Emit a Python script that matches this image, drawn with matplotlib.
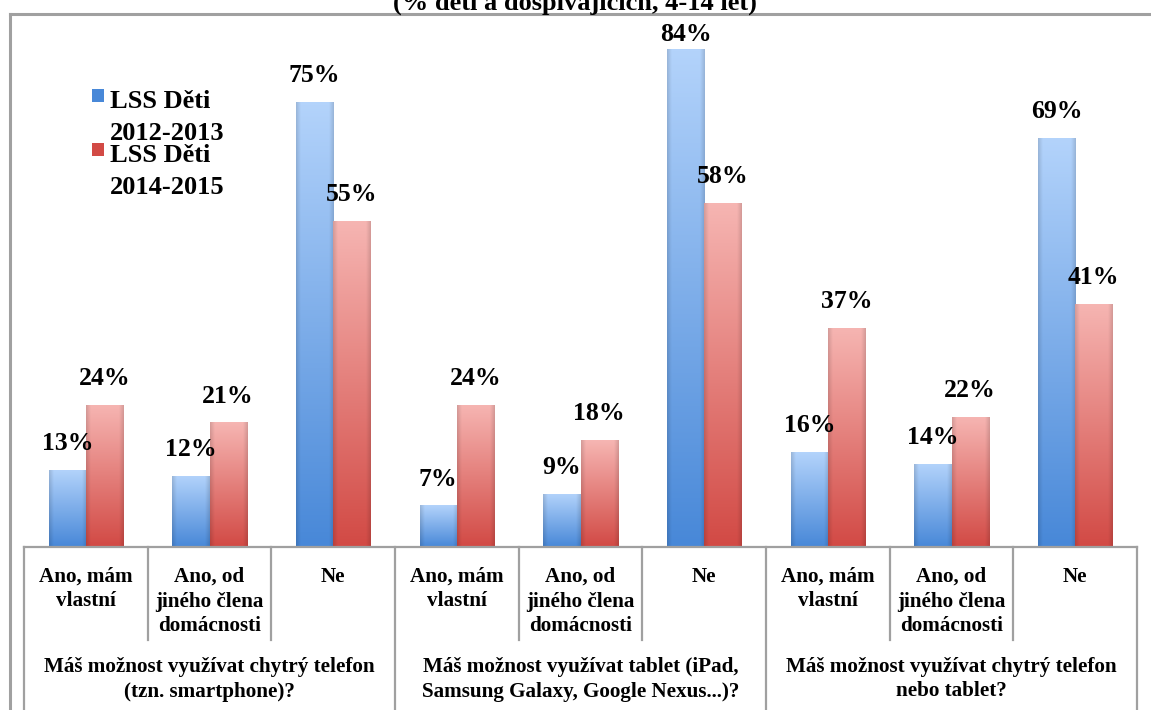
import matplotlib
matplotlib.use('Agg')
import matplotlib.pyplot as plt
import numpy as np
from matplotlib.lines import Line2D
from matplotlib.patches import Rectangle

plt.rcParams['font.family'] = ['Liberation Serif', 'DejaVu Serif']
plt.rcParams['font.weight'] = 'bold'

title = '(% dětí a dospívajících, 4-14 let)'
answers = ['Ano, mám\nvlastní', 'Ano, od\njiného člena\ndomácnosti', 'Ne'] * 3
questions = ['Máš možnost využívat chytrý telefon\n(tzn. smartphone)?',
             'Máš možnost využívat tablet (iPad,\nSamsung Galaxy, Google Nexus...)?',
             'Máš možnost využívat chytrý telefon\nnebo tablet?']
series = ['LSS Děti\n2012-2013', 'LSS Děti\n2014-2015']
vals_1213 = [13, 12, 75, 7, 9, 84, 16, 14, 69]
vals_1415 = [24, 21, 55, 24, 18, 58, 37, 22, 41]

# gradient colours (top, bottom)
grads = [('#b3d3fb', '#4888d8'), ('#f6b5b2', '#d24a45')]
edges = ['#3f76bb', '#b03e3a']

W, H = 1151, 710
fig = plt.figure(figsize=(W / 100, H / 100), dpi=100)
ax_l, ax_r, ax_b, ax_t = 24, 1137, 547, 14
ax = fig.add_axes([ax_l / W, (H - ax_b) / H, (ax_r - ax_l) / W, (ax_b - ax_t) / H])


def shade(ax, bar, top, bottom):
    x0, y0 = bar.get_x(), bar.get_y()
    w, h = bar.get_width(), bar.get_height()
    c1 = np.array(matplotlib.colors.to_rgb(top))
    c2 = np.array(matplotlib.colors.to_rgb(bottom))
    t = np.linspace(0, 1, 80)[:, None]
    rgb = c1 * (1 - t) + c2 * t
    u = np.linspace(0, 1, 40)
    e = np.minimum(u, 1 - u)
    dark = 1 - 0.13 * np.clip(1 - e / 0.12, 0, 1)
    img = rgb[:, None, :] * dark[None, :, None]
    im = ax.imshow(np.clip(img, 0, 1), extent=[x0, x0 + w, y0, y0 + h], origin='upper',
                   aspect='auto', interpolation='bilinear', zorder=2)
    im.set_clip_path(bar)


x = np.arange(len(answers))
bw = 0.30
for i, vals in enumerate([vals_1213, vals_1415]):
    off = -bw / 2 if i == 0 else bw / 2
    bars = ax.bar(x + off, vals, bw, color=grads[i][1], edgecolor=edges[i], linewidth=0.6, zorder=1)
    for b, v in zip(bars, vals):
        shade(ax, b, grads[i][0], grads[i][1])
        ly = min(v, 82)
        ax.annotate('%d%%' % v, (b.get_x() + b.get_width() / 2, ly), xytext=(0, 19),
                    textcoords='offset points', ha='center', va='center',
                    fontsize=18.5, fontweight='bold', zorder=5)

ax.set_xlim(-0.5, len(answers) - 0.5)
ax.set_ylim(0, (ax_b - ax_t) / 5.93)
for s in ['top', 'right', 'left']:
    ax.spines[s].set_visible(False)
ax.spines['bottom'].set_color('#a0a0a0')
ax.spines['bottom'].set_linewidth(1.6)
ax.set_xticks([])
ax.set_yticks([])

# category separators
hpx = ax_b - ax_t
tr = ax.get_xaxis_transform()
for k in range(len(answers) + 1):
    low = -(H - ax_b) / hpx if k % 3 == 0 else -93 / hpx
    ax.plot([k - 0.5, k - 0.5], [0, low], color='#a0a0a0', lw=1.6, transform=tr, clip_on=False)

for k, a in enumerate(answers):
    ax.text(k, -20 / hpx, a, transform=tr, ha='center', va='top', fontsize=15.2,
            fontweight='bold', linespacing=1.3)
for g, q in enumerate(questions):
    ax.text(3 * g + 1, -110 / hpx, q, transform=tr, ha='center', va='top', fontsize=15.2,
            fontweight='bold', linespacing=1.3)

# chart frame
fig.add_artist(Line2D([10 / W, 10 / W], [0, 1 - 14 / H], color='#a0a0a0', lw=2.2))
fig.add_artist(Line2D([10 / W, 1], [1 - 14 / H, 1 - 14 / H], color='#a0a0a0', lw=2.2))

# title (cut off at the top, as in the source)
fig.text(575 / W, 1 - 10 / H, title, ha='center', va='baseline', fontsize=19, fontweight='bold')

# legend
for i, name in enumerate(series):
    base = 108 + 54 * i
    fig.add_artist(Rectangle((92 / W, 1 - (base - 6) / H), 12 / W, 13 / H,
                             facecolor=grads[i][1], edgecolor='none'))
    for j, line in enumerate(name.split('\n')):
        fig.text(110 / W, 1 - (base + 32 * j) / H, line, ha='left', va='baseline',
                 fontsize=19, fontweight='bold')

fig.savefig('out.png', dpi=100)
